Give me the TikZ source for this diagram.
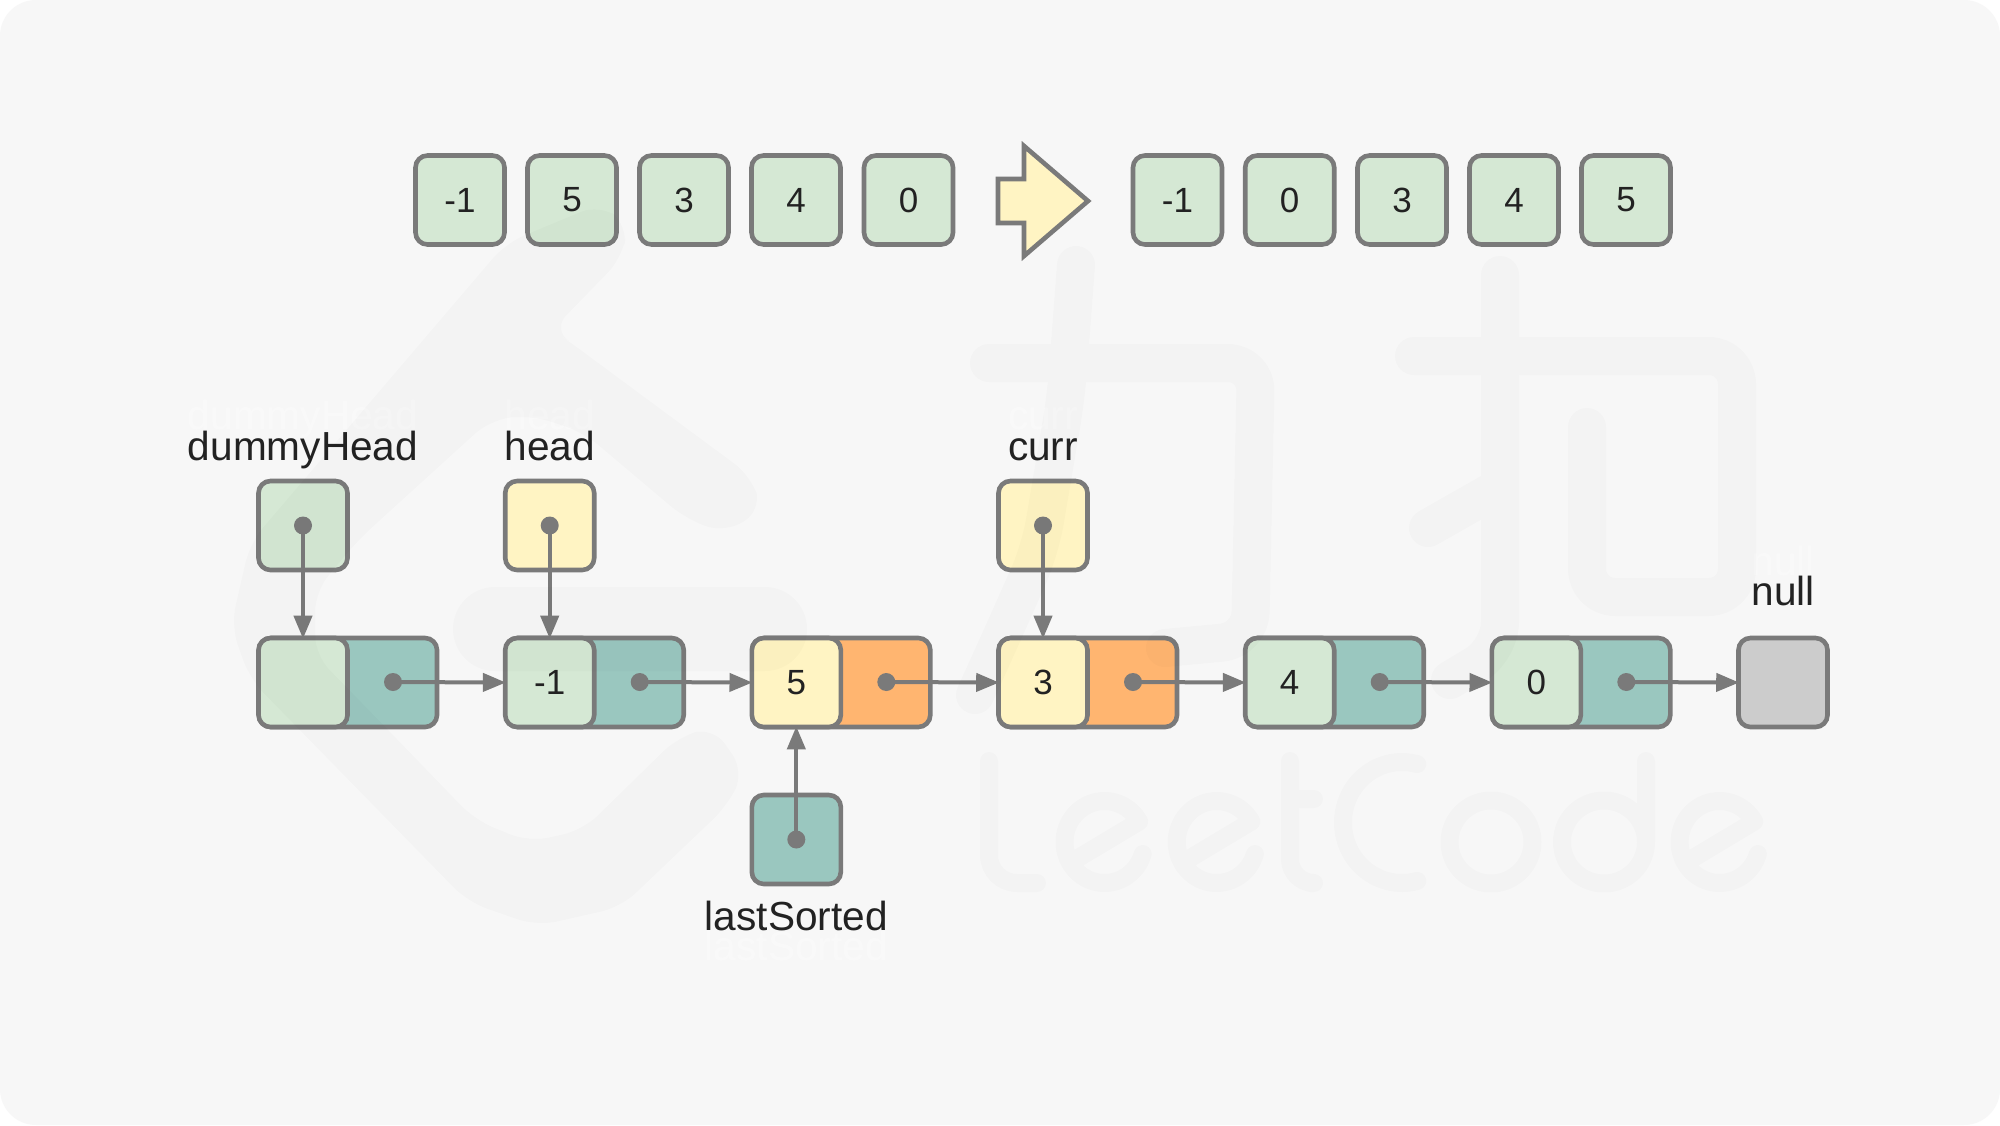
\documentclass[tikz,border=0pt]{standalone}
\usepackage{fontspec}
\setmainfont{Liberation Sans}
\usetikzlibrary{arrows.meta}
\definecolor{cgreen}{HTML}{D5E8D4}
\definecolor{cyellow}{HTML}{FFF4C3}
\definecolor{cteal}{HTML}{9AC7BF}
\definecolor{corange}{HTML}{FFB570}
\definecolor{cgrey}{HTML}{CCCCCC}
\definecolor{cline}{HTML}{7A7A7A}
\definecolor{cpaper}{HTML}{F7F7F7}
\definecolor{ctext}{HTML}{222222}
\tikzset{
  x=0.5pt,y=-0.5pt,
  cell/.style={draw=cline,line width=2.3pt,rounded corners=6pt,minimum width=44.5pt,minimum height=44.5pt,inner sep=0pt,font=\fontsize{17.5pt}{20pt}\selectfont,text=ctext},
  rear/.style={cell,minimum width=89pt},
  gc/.style={cell,fill=cgreen},
  yc/.style={cell,fill=cyellow},
  tc/.style={cell,fill=cteal},
  gr/.style={cell,fill=cgrey},
  reart/.style={rear,fill=cteal},
  rearo/.style={rear,fill=corange},
  dot/.style={circle,fill=cline,minimum size=9pt,inner sep=0pt},
  link/.style={draw=cline,line width=2pt,shorten >=-1.5pt,-{Triangle[length=11.5pt,width=9pt]}},
  lab/.style={anchor=base,inner sep=0pt,font=\fontsize{20.3pt}{22pt}\selectfont,text=ctext},
  ghost/.style={anchor=base,inner sep=0pt,font=\fontsize{20.3pt}{22pt}\selectfont,text=white,text opacity=.35},
  wmthin/.style={line width=9pt,line cap=round,line join=round,draw=black},
  wmchar/.style={line width=19pt,line cap=round,line join=round,rounded corners=14pt,draw=black},
}
\begin{document}
\begin{tikzpicture}
\useasboundingbox (0,0) rectangle (2000,1125);
\fill[white] (0,0) rectangle (2000,1125);
\fill[cpaper,rounded corners=18pt] (0,0) rectangle (2000,1125);

% top row, unsorted
\node[gc] (a1) at (460,200) {-1};
\node[gc] (a2) at (572,200) {5};
\node[gc] (a3) at (684,200) {3};
\node[gc] (a4) at (796,200) {4};
\node[gc] (a5) at (908.5,200) {0};
% block arrow
\draw[draw=cline,fill=cyellow,line width=2.3pt,miter limit=10] (998,179) -- (1024,179) -- (1024,146) -- (1088,201) -- (1024,256) -- (1024,223) -- (998,223) -- cycle;
% top row, sorted
\node[gc] (b1) at (1177.5,200) {-1};
\node[gc] (b2) at (1289.7,200) {0};
\node[gc] (b3) at (1402,200) {3};
\node[gc] (b4) at (1514,200) {4};
\node[gc] (b5) at (1626,200) {5};

% list nodes
\node[reart] (r1) at (348,682.5) {};
\node[gc] (n1) at (303,682.5) {};
\node[reart] (r2) at (594.7,682.5) {};
\node[gc] (n2) at (549.7,682.5) {-1};
\node[rearo] (r3) at (841.3,682.5) {};
\node[yc] (n3) at (796.3,682.5) {5};
\node[rearo] (r4) at (1088,682.5) {};
\node[yc] (n4) at (1043,682.5) {3};
\node[reart] (r5) at (1334.7,682.5) {};
\node[gc] (n5) at (1289.7,682.5) {4};
\node[reart] (r6) at (1581.3,682.5) {};
\node[gc] (n6) at (1536.3,682.5) {0};
\node[gr] (n7) at (1783,682.5) {};

% pointer boxes
\node[gc] (pd) at (303,525.5) {};
\node[yc] (ph) at (549.7,525.5) {};
\node[yc] (pc) at (1043,525.5) {};
\node[tc] (pl) at (796.3,839.5) {};

% dots
\node[dot] (d1) at (393,682) {};
\node[dot] (d2) at (639.7,682) {};
\node[dot] (d3) at (886.3,682) {};
\node[dot] (d4) at (1133,682) {};
\node[dot] (d5) at (1379.7,682) {};
\node[dot] (d6) at (1626.3,682) {};
\node[dot] (dpd) at (303,525.5) {};
\node[dot] (dph) at (549.7,525.5) {};
\node[dot] (dpc) at (1043,525.5) {};
\node[dot] (dpl) at (796.3,839.5) {};

% connectors
\draw[link] (d1.center) -- (n2.west);
\draw[link] (d2.center) -- (n3.west);
\draw[link] (d3.center) -- (n4.west);
\draw[link] (d4.center) -- (n5.west);
\draw[link] (d5.center) -- (n6.west);
\draw[link] (d6.center) -- (n7.west);
\draw[link] (dpd.center) -- (n1.north);
\draw[link] (dph.center) -- (n2.north);
\draw[link] (dpc.center) -- (n4.north);
\draw[link] (dpl.center) -- (n3.south);

% labels
\node[ghost] (gd) at (303,429) {dummyHead};
\node[ghost] (gh) at (549.7,429) {head};
\node[ghost] (gc1) at (1043,429) {curr};
\node[ghost] (gn) at (1783,575) {null};
\node[ghost] (gl) at (796.3,960) {lastSorted};
\node[lab] (ld) at (303,460) {dummyHead};
\node[lab] (lh) at (549.7,460) {head};
\node[lab] (lc) at (1043,460) {curr};
\node[lab] (ln) at (1783,605.5) {null};
\node[lab] (ll) at (796.3,930.5) {lastSorted};

% watermark, laid over everything
\begin{scope}[transparency group,opacity=.017]
  % logo
  \fill[rounded corners=10pt] (600,204) -- (628,225) -- (622,258) -- (552,330) -- (563,337) -- (751,476) -- (762,510) -- (725,533) -- (686,519) -- (583,432) -- (530,415) -- (490,420) -- (357,541) -- (315,592) -- (315,655) -- (391,733) -- (475,820) -- (529,842) -- (583,830) -- (678,737) -- (713,727) -- (744,771) -- (728,805) -- (621,907) -- (537,926) -- (468,902) -- (250,679) -- (231,626) -- (250,543) -- (506,243) -- cycle;
  \draw[line width=42pt,line cap=round,draw=black] (495,629) -- (765,629);
  % chinese glyph strokes
  \draw[wmchar] (1076,265) -- (1066,397) -- (1040,550) -- (1000,640) -- (975,695);
  \draw[wmchar] (989,363) -- (1256,363) -- (1250,640) -- (1165,648);
  \draw[wmchar] (1500,275) -- (1500,650) -- (1450,680);
  \draw[wmchar] (1414,356) -- (1737,356) -- (1737,597) -- (1587,597) -- (1587,427);
  \draw[wmchar] (1428,528) -- (1500,487);
  % wordmark
  \draw[wmthin,rounded corners=14pt] (989,761) -- (989,883) -- (1037,883);
  \draw[wmthin,rounded corners=12pt] (1290,761) -- (1290,883) -- (1310,883);
  \draw[wmthin] (1290,799) -- (1314,799);
  \foreach \c in {1104.5,1216.7,1719.6}{
    \draw[wmthin] plot[smooth,domain=17:330,samples=30] ({\c+40*cos(\x)},{842+41*sin(\x)}) -- ({\c-33},{842+20});
  }
  \draw[wmthin] plot[smooth,domain=285:75,samples=30] ({1402+59*cos(\x)},{822.5+60.5*sin(\x)});
  \draw[wmthin] plot[smooth,domain=0:360,samples=40] ({1491+41.5*cos(\x)},{842+41.5*sin(\x)});
  \draw[wmthin] plot[smooth,domain=0:360,samples=40] ({1604+42*cos(\x)},{842+41.5*sin(\x)});
  \draw[wmthin] (1646,761) -- (1646,842);
\end{scope}
\end{tikzpicture}
\end{document}
